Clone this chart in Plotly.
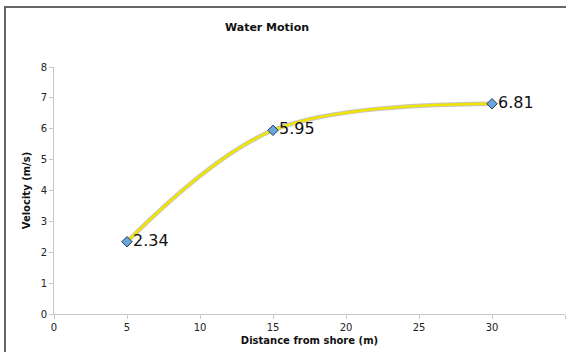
import plotly.graph_objects as go

distance = [5, 15, 30]
velocity = [2.34, 5.95, 6.81]
labels = ["2.34", "5.95", "6.81"]
x_ticks = [0, 5, 10, 15, 20, 25, 30, 35]
y_ticks = [0, 1, 2, 3, 4, 5, 6, 7, 8]

W, H = 566, 352
ML, MT = 6, 8                      # frame position
pw, ph = W - ML, H - MT            # paper size
px0, px1 = 54, 565                 # plot area x pixels
py0, py1 = 67, 314                 # plot area y pixels (top, bottom)

fig = go.Figure()
fig.add_trace(go.Scatter(x=distance, y=velocity, mode="lines",
                         line=dict(color="rgba(150,150,150,0.55)", width=4.5, shape="spline", smoothing=1.0),
                         hoverinfo="skip", showlegend=False))
fig.add_trace(go.Scatter(x=distance, y=velocity, mode="lines+markers+text",
                         line=dict(color="#f0e400", width=2.5, shape="spline", smoothing=1.0),
                         marker=dict(symbol="diamond", size=8, color="#6aa6dc",
                                     line=dict(color="#203a5c", width=1)),
                         text=labels, textposition="middle right",
                         textfont=dict(family="DejaVu Sans", size=16, color="#111111"),
                         showlegend=False))
# empty trace to host the frame axes
fig.add_trace(go.Scatter(x=[], y=[], xaxis="x2", yaxis="y2", showlegend=False, hoverinfo="skip"))

axis_common = dict(showline=True, linecolor="#c8c8c8", linewidth=1, showgrid=False,
                   zeroline=False, ticks="outside", tickcolor="#c8c8c8", ticklen=4,
                   automargin=False,
                   tickfont=dict(family="DejaVu Sans", size=10, color="#222222"))
frame_axis = dict(showline=True, linecolor="#666666", linewidth=2, showgrid=False,
                  zeroline=False, showticklabels=False, ticks="", automargin=False,
                  domain=[0, 1], range=[0, 1], fixedrange=True)

fig.update_layout(
    width=W, height=H,
    margin=dict(l=ML, r=0, t=MT, b=0),
    paper_bgcolor="white", plot_bgcolor="rgba(0,0,0,0)",
    xaxis=dict(range=[0, 35], tickvals=x_ticks, **axis_common,
               domain=[(px0 - ML) / pw, (px1 - ML) / pw],
               title=dict(text="<b>Distance from shore (m)</b>", standoff=4,
                          font=dict(family="DejaVu Sans", size=10, color="#111111"))),
    yaxis=dict(range=[0, 8], tickvals=y_ticks, **axis_common,
               domain=[(H - py1) / ph, (H - py0) / ph],
               title=dict(text="<b>Velocity (m/s)</b>", standoff=8,
                          font=dict(family="DejaVu Sans", size=10, color="#111111"))),
    xaxis2=dict(anchor="y2", side="top", **frame_axis),
    yaxis2=dict(anchor="x2", side="left", **frame_axis),
    title=dict(text="<b>Water Motion</b>", x=267 / W, xanchor="center",
               y=1 - 27 / H, yanchor="middle",
               font=dict(family="DejaVu Sans", size=11, color="#111111")),
)

fig.write_html("out.html")
